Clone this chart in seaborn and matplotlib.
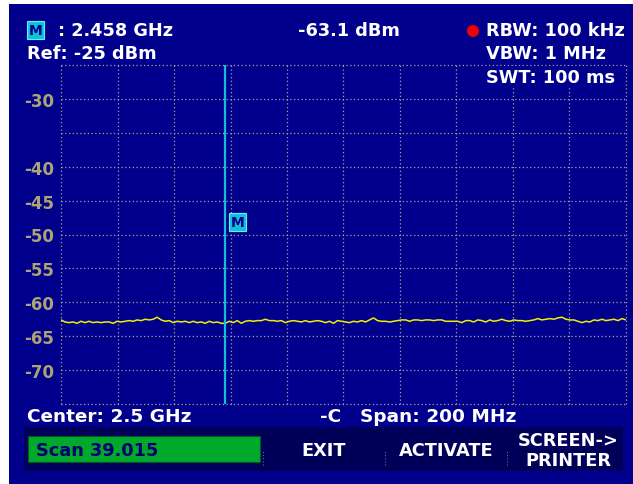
import numpy as np
import pandas as pd
import matplotlib
matplotlib.use("Agg")
import matplotlib.pyplot as plt
from matplotlib.patches import Rectangle, Ellipse
import seaborn as sns

# Sweep settings
center_ghz = 2.5
span_ghz = 0.2
ref_level = -25
y_bottom = -75
marker_freq = 2.458
marker_level = -63.1
y_labels = [-30, -40, -45, -50, -55, -60, -65, -70]

# Measured trace (dBm), left to right across the span
trace_dbm = [
    -62.6, -62.9, -63.0, -62.9, -63.1, -62.8, -63.0, -62.8, -63.0, -62.9,
    -63.0, -62.9, -62.9, -63.1, -62.8, -62.9, -62.8, -62.7, -62.8, -62.6,
    -62.7, -62.5, -62.6, -62.5, -62.2, -62.6, -62.8, -62.7, -63.0, -62.8,
    -62.9, -62.8, -63.0, -62.8, -63.0, -62.9, -63.1, -62.8, -63.0, -62.9,
    -63.1, -63.1, -62.8, -63.0, -62.7, -63.1, -62.8, -62.7, -62.8, -62.7,
    -62.7, -62.5, -62.7, -62.7, -62.8, -62.7, -63.0, -62.8, -62.7, -62.8,
    -62.9, -62.7, -62.9, -62.8, -62.7, -62.8, -63.0, -62.8, -63.1, -62.7,
    -62.8, -62.9, -63.0, -62.8, -62.9, -62.7, -62.9, -62.6, -62.3, -62.7,
    -62.8, -62.8, -62.9, -62.8, -62.7, -62.6, -62.6, -62.8, -62.6, -62.6,
    -62.7, -62.6, -62.6, -62.7, -62.6, -62.6, -62.8, -62.8, -62.8, -62.8,
    -63.0, -62.7, -62.7, -62.9, -62.6, -62.7, -62.9, -62.6, -62.8, -62.7,
    -62.5, -62.7, -62.8, -62.6, -62.7, -62.7, -62.8, -62.7, -62.6, -62.4,
    -62.6, -62.5, -62.4, -62.5, -62.3, -62.2, -62.5, -62.6, -62.6, -62.8,
    -63.0, -62.8, -62.9, -62.6, -62.7, -62.5, -62.7, -62.6, -62.5, -62.7,
    -62.4, -62.6,
]

f_start = center_ghz - span_ghz / 2
f_stop = center_ghz + span_ghz / 2
freqs = np.linspace(f_start, f_stop, len(trace_dbm))
df = pd.DataFrame({"freq": freqs, "level": trace_dbm})

# Screen colours
SCREEN = "#00008c"
BAR = "#000058"
GRID = "#a8a290"
LABEL = "#aca474"
TRACE = "#f0f000"
MARKER = "#10c0d8"

sns.set_style("dark")
plt.rcParams["font.family"] = ["DejaVu Sans"]

W, H = 633, 485
fig = plt.figure(figsize=(W / 100, H / 100), dpi=100)
fig.patch.set_facecolor("white")


def fx(x):
    return x / W


def fy(y):
    return 1 - y / H


# Instrument screen background and softkey bar
fig.add_artist(Rectangle((fx(9), 0), 1 - fx(9), fy(5), transform=fig.transFigure,
                         facecolor=SCREEN, edgecolor="none", zorder=0))
fig.add_artist(Rectangle((fx(24), fy(472)), fx(623 - 24), (472 - 428) / H,
                         transform=fig.transFigure, facecolor=BAR,
                         edgecolor="none", zorder=1))
fig.add_artist(Rectangle((fx(28), fy(463)), fx(260 - 28), (463 - 437) / H,
                         transform=fig.transFigure, facecolor="#00a82c",
                         edgecolor="#005a20", linewidth=0.8, zorder=2))

ax = fig.add_axes([fx(61), fy(405), fx(626 - 61), (405 - 66) / H])
ax.set_facecolor(SCREEN)

sns.lineplot(data=df, x="freq", y="level", ax=ax, color=TRACE,
             linewidth=1.1, zorder=4)
ax.axvline(marker_freq, color=MARKER, linewidth=1.6, zorder=5)

ax.set_xlim(f_start, f_stop)
ax.set_ylim(y_bottom, ref_level)
ax.set_xticks(np.linspace(f_start, f_stop, 11))
ax.set_xticklabels([])
yt = np.arange(y_bottom, ref_level + 1, 5)
ax.set_yticks(yt)
ax.set_yticklabels([str(v) if v in y_labels else "" for v in yt])
ax.tick_params(length=0, pad=5)
for lab in ax.get_yticklabels():
    lab.set_color(LABEL)
    lab.set_fontweight("bold")
    lab.set_fontsize(12)
ax.set_xlabel("")
ax.set_ylabel("")
for s in ax.spines.values():
    s.set_visible(False)
ax.grid(True, color=GRID, linestyle=(0, (1, 2)), linewidth=0.9, zorder=1)
for gl in ax.get_xgridlines() + ax.get_ygridlines():
    gl.set_clip_on(False)

# Marker flag in the trace window
ax.text(marker_freq + 0.0022, 0.537, "M", transform=ax.get_xaxis_transform(),
        ha="left", va="center", color=SCREEN, fontsize=10, fontweight="bold",
        zorder=6,
        bbox=dict(boxstyle="square,pad=0.12", facecolor=MARKER,
                  edgecolor="#60f0ff", linewidth=0.8))

txt = dict(color="white", fontweight="bold", fontsize=12.8, va="center", zorder=5)

# Header readouts
fig.text(fx(29), fy(31), "M", color=SCREEN, fontsize=10, fontweight="bold",
         va="center", ha="left", zorder=6,
         bbox=dict(boxstyle="square,pad=0.12", facecolor=MARKER,
                   edgecolor="#60f0ff", linewidth=0.8))
fig.text(fx(58), fy(31), ": 2.458 GHz", ha="left", **txt)
fig.text(fx(27), fy(54), "Ref: -25 dBm", ha="left", **txt)
fig.text(fx(349), fy(31), f"{marker_level} dBm", ha="center", **txt)
fig.add_artist(Ellipse((fx(473), fy(32)), fx(12), 12 / H, transform=fig.transFigure,
                       facecolor="#f00000", edgecolor="none", zorder=6))
fig.text(fx(486), fy(31), "RBW: 100 kHz", ha="left", **txt)
fig.text(fx(486), fy(54), "VBW: 1 MHz", ha="left", **txt)
fig.text(fx(486), fy(78), "SWT: 100 ms", ha="left",
         bbox=dict(boxstyle="square,pad=0.1", facecolor=SCREEN, edgecolor="none"),
         **txt)

# Footer readouts
foot = dict(txt, fontsize=13.3)
fig.text(fx(27), fy(417), "Center: 2.5 GHz", ha="left", **foot)
fig.text(fx(331), fy(417), "-C", ha="center", **foot)
fig.text(fx(360), fy(417), "Span: 200 MHz", ha="left", **foot)

# Softkeys
fig.text(fx(36), fy(451), "Scan 39.015", ha="left", color="#000070",
         fontweight="bold", fontsize=12.8, va="center", zorder=5)
fig.text(fx(324), fy(451), "EXIT", ha="center", **txt)
fig.text(fx(446), fy(451), "ACTIVATE", ha="center", **txt)
fig.text(fx(568), fy(441), "SCREEN->", ha="center", **txt)
fig.text(fx(568), fy(461), "PRINTER", ha="center", **txt)
for xs in (263, 385, 507):
    fig.add_artist(plt.Line2D([fx(xs), fx(xs)], [fy(466), fy(452)],
                              transform=fig.transFigure, color="#7070a0",
                              linestyle=(0, (1, 2)), linewidth=0.75, zorder=3))

fig.savefig("out.png", dpi=100, facecolor=fig.get_facecolor())
